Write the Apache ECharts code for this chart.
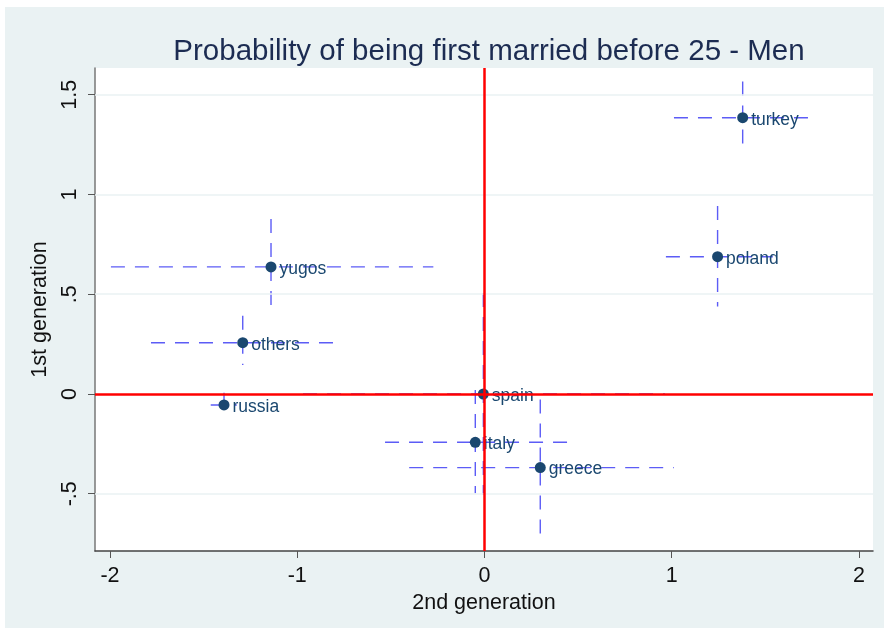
<!DOCTYPE html>
<html>
<head>
<meta charset="utf-8">
<script src="https://cdn.jsdelivr.net/npm/echarts@6/dist/echarts.min.js"></script>
<style>
  html, body { margin: 0; padding: 0; background: #fff; }
  #chart { position: absolute; left: 5px; top: 7px; width: 879px; height: 621px; }
</style>
</head>
<body>
<div id="chart"></div>
<script>
// countries and their estimates (x = 2nd generation, y = 1st generation)
const countries = ['turkey', 'poland', 'yugos', 'others', 'russia', 'spain', 'italy', 'greece']
const secondGen = [1.379, 1.245, -1.140, -1.291, -1.391, -0.006, -0.049, 0.298]
const firstGen = [1.385, 0.688, 0.637, 0.257, -0.055, 0.000, -0.242, -0.369]
// confidence intervals
const secondLow = [1.012, 0.969, -1.995, -1.781, -1.462, -0.969, -0.531, -0.402]
const secondHigh = [1.749, 1.540, -0.273, -0.775, -1.323, 0.964, 0.471, 1.012]
const firstLow = [1.223, 0.438, 0.404, 0.145, -0.114, -0.506, -0.498, -0.715]
const firstHigh = [1.566, 0.942, 0.877, 0.392, 0.006, 0.506, 0.020, -0.027]
// axis ticks
const xTicks = [-2, -1, 0, 1, 2]
const yTicks = [-0.5, 0, 0.5, 1, 1.5]

const navy = '#1a476f'
const ciColor = '#5c5cf6'
const font = '"Liberation Sans", Arial, sans-serif'

const points = countries.map((c, i) => ({ name: c, value: [secondGen[i], firstGen[i]] }))
const ciData = countries.map((c, i) => [secondGen[i], firstGen[i], secondLow[i], secondHigh[i], firstLow[i], firstHigh[i]])

const fmt = v => v === 0 ? '0' : String(v).replace('0.', '.')

const chart = echarts.init(document.getElementById('chart'))
chart.setOption({
  backgroundColor: '#eaf2f3',
  animation: false,
  title: {
    text: 'Probability of being first married before 25 - Men',
    left: 479,
    top: 25,
    textAlign: 'center',
    textStyle: {
      color: '#1c2c52',
      fontFamily: font,
      fontWeight: 'normal',
      fontSize: 29.5
    }
  },
  grid: {
    left: 90,
    top: 61,
    right: 11,
    bottom: 77,
    show: true,
    backgroundColor: '#fff',
    borderWidth: 0
  },
  xAxis: {
    type: 'value',
    min: -2.08,
    max: 2.075,
    name: '2nd generation',
    nameLocation: 'middle',
    nameGap: 40,
    nameTextStyle: { color: '#111', fontFamily: font, fontSize: 21.5 },
    axisLine: { onZero: false, lineStyle: { color: '#444', width: 1.5 } },
    axisTick: { length: 7, customValues: xTicks, lineStyle: { color: '#555' } },
    axisLabel: {
      customValues: xTicks,
      formatter: fmt,
      margin: 14,
      color: '#111',
      fontFamily: font,
      fontSize: 21.5
    },
    splitLine: { show: false }
  },
  yAxis: {
    type: 'value',
    min: -0.787,
    max: 1.634,
    name: '1st generation',
    nameLocation: 'middle',
    nameGap: 31,
    nameTextStyle: { color: '#111', fontFamily: font, fontSize: 21.5 },
    axisLine: { onZero: false, lineStyle: { color: '#777', width: 1.5 } },
    axisTick: { length: 7, customValues: yTicks, lineStyle: { color: '#555' } },
    axisLabel: {
      customValues: yTicks,
      formatter: fmt,
      rotate: 90,
      margin: 14,
      color: '#111',
      fontFamily: font,
      fontSize: 21.5
    },
    splitLine: { show: false }
  },
  series: [
    {
      // grid lines and red reference lines
      type: 'scatter',
      data: [],
      silent: true,
      markLine: {
        symbol: 'none',
        silent: true,
        label: { show: false },
        data: yTicks.filter(v => v !== 0).map(v => ({ yAxis: v, lineStyle: { color: '#eaf2f3', width: 1.5, type: 'solid' } }))
          .concat([
            { xAxis: 0, lineStyle: { color: '#ff0000', width: 2.5, type: 'solid' } },
            { yAxis: 0, lineStyle: { color: '#ff0000', width: 2.5, type: 'solid' } }
          ])
      }
    },
    {
      type: 'custom',
      silent: true,
      data: ciData,
      renderItem: (params, api) => {
        const left = api.coord([api.value(2), api.value(1)])
        const right = api.coord([api.value(3), api.value(1)])
        const bottom = api.coord([api.value(0), api.value(4)])
        const top = api.coord([api.value(0), api.value(5)])
        const style = { stroke: ciColor, lineWidth: 1.4, lineDash: [14, 10] }
        return {
          type: 'group',
          children: [
            { type: 'line', shape: { x1: left[0], y1: left[1], x2: right[0], y2: right[1] }, style: style },
            { type: 'line', shape: { x1: top[0], y1: top[1], x2: bottom[0], y2: bottom[1] }, style: style }
          ]
        }
      },
      z: 3
    },
    {
      type: 'scatter',
      data: points,
      symbol: 'circle',
      symbolSize: 11,
      itemStyle: { color: navy, opacity: 1 },
      label: {
        show: true,
        position: 'right',
        distance: 3,
        offset: [0, 2],
        formatter: p => p.name,
        color: navy,
        fontFamily: font,
        fontSize: 17.5
      },
      z: 4
    }
  ]
})
</script>
</body>
</html>
